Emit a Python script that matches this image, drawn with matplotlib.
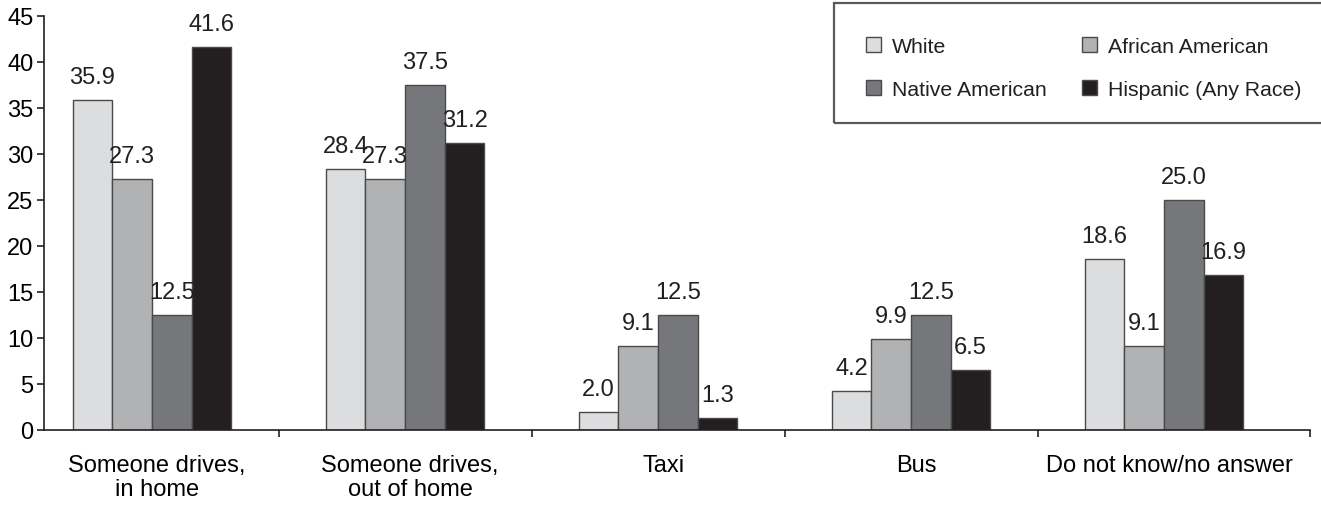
import numpy as np
import matplotlib.pyplot as plt
from matplotlib.patches import Rectangle

plt.rcParams['font.family'] = ['Liberation Sans', 'DejaVu Sans']
plt.rcParams['text.color'] = '#231f20'

categories = ['Someone drives,\nin home', 'Someone drives,\nout of home', 'Taxi', 'Bus',
              'Do not know/no answer']
groups = ['White', 'African American', 'Native American', 'Hispanic (Any Race)']
white = [35.9, 28.4, 2.0, 4.2, 18.6]
african_american = [27.3, 27.3, 9.1, 9.9, 9.1]
native_american = [12.5, 37.5, 12.5, 12.5, 25.0]
hispanic = [41.6, 31.2, 1.3, 6.5, 16.9]
series = [white, african_american, native_american, hispanic]
colors = ['#dcdddf', '#b1b2b4', '#76777a', '#231f20']
yticks = [0, 5, 10, 15, 20, 25, 30, 35, 40, 45]

fig = plt.figure(figsize=(13.21, 5.06), dpi=100)
ax = fig.add_axes([44 / 1321, 75 / 506, (1310 - 44) / 1321, 414 / 506])

x = np.arange(len(categories))
w = 0.157
handles = []
for i, (vals, col) in enumerate(zip(series, colors)):
    pos = x + (i - 1.5) * w
    bars = ax.bar(pos, vals, width=w, color=col, edgecolor='#4a4a4a',
                  linewidth=1.0, label=groups[i], zorder=2)
    handles.append(bars)
    for b, v in zip(bars, vals):
        ax.annotate(f'{v:.1f}', (b.get_x() + b.get_width() / 2, v),
                    xytext=(0, 17), textcoords='offset pixels',
                    ha='center', va='baseline', fontsize=17)

xmax = 4.577
ax.set_xlim(-0.427, xmax)
ax.set_ylim(0, 45)
ax.set_yticks(yticks)
ax.set_xticks(list(np.arange(0.5, 4, 1.0)) + [xmax])
ax.set_xticklabels([])
ax.set_xticks(x + 0.02, minor=True)
ax.set_xticklabels(categories, minor=True, fontsize=17, linespacing=1.15)
ax.tick_params(axis='x', which='major', direction='out', length=5, width=1.2,
               color='#231f20')
ax.tick_params(axis='x', which='minor', length=0, pad=17)
ax.tick_params(axis='y', direction='out', length=5, width=1.2, pad=2.5,
               color='#231f20', labelsize=17)
for s in ['top', 'right']:
    ax.spines[s].set_visible(False)
for s in ['left', 'bottom']:
    ax.spines[s].set_linewidth(1.2)
    ax.spines[s].set_color('#231f20')

# legend box
fig.patches.append(Rectangle((834 / 1321, (506 - 124) / 506), 500 / 1321, 120 / 506,
                             transform=fig.transFigure, fill=False,
                             edgecolor='#5a5a5a', linewidth=1.6, clip_on=False))
order = [0, 2, 1, 3]
leg = fig.legend([handles[k] for k in order], [groups[k] for k in order],
                 loc='upper left', bbox_to_anchor=(866 / 1321, (506 - 38) / 506),
                 ncol=2, frameon=False, fontsize=15.3, handlelength=0.7,
                 handleheight=0.7, handletextpad=0.5, columnspacing=1.7,
                 labelspacing=1.12, borderpad=0, borderaxespad=0)

fig.savefig('out.png', dpi=100)
